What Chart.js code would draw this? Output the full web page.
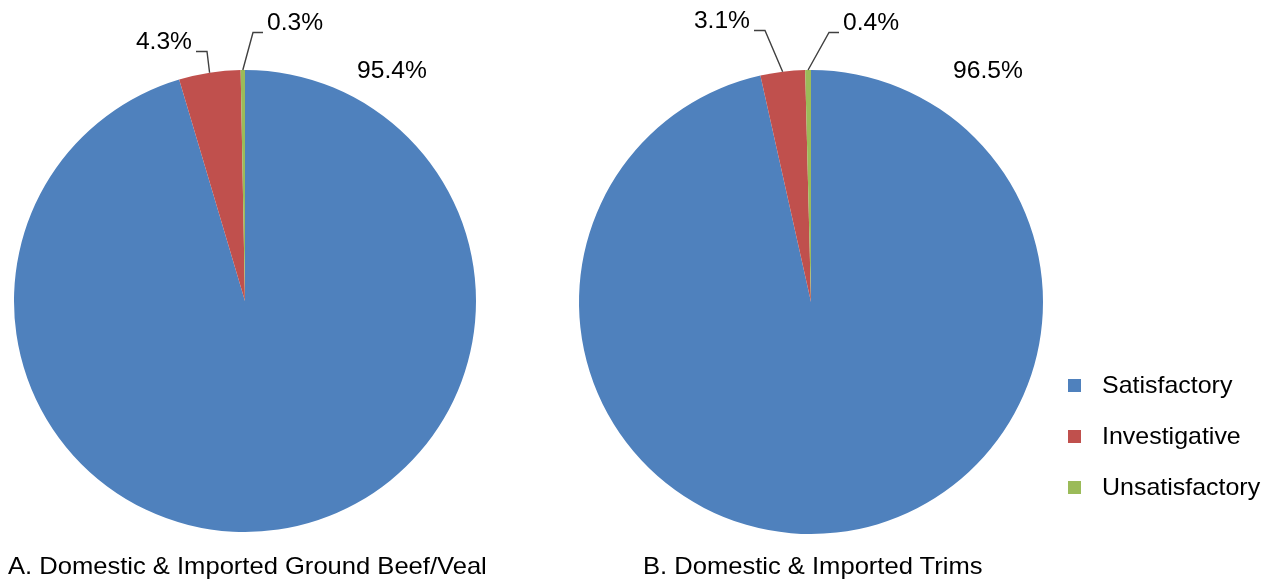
<!DOCTYPE html>
<html>
<head>
<meta charset="utf-8">
<script src="https://cdn.jsdelivr.net/npm/chart.js@4.4.1/dist/chart.umd.min.js"></script>
<style>
  html, body { margin: 0; padding: 0; background: #fff; }
  body { width: 1277px; height: 583px; position: relative; overflow: hidden;
         font-family: "Liberation Sans", Arial, sans-serif; color: #000; }
  .layer { position: absolute; left: 0; top: 0; width: 1277px; height: 583px; }
  .title { position: absolute; top: 552px; font-size: 24px; line-height: 28px; white-space: nowrap;
           transform: scaleX(1.065); transform-origin: 0 0; }
  #legend { position: absolute; left: 1068px; top: 370px; font-size: 24px; }
  .item { position: absolute; left: 0; height: 30px; white-space: nowrap; }
  .item span.box { position: absolute; left: 0; top: 9px; width: 13px; height: 13px; }
  .item span.txt { position: absolute; left: 34px; top: 0; line-height: 30px;
                   transform: scaleX(1.04); transform-origin: 0 0; }
</style>
</head>
<body>
<div class="layer"><canvas id="pieA" width="1277" height="583"></canvas></div>
<div class="layer"><canvas id="pieB" width="1277" height="583"></canvas></div>
<div class="title" id="titleA" style="left: 8px;"></div>
<div class="title" id="titleB" style="left: 643px;"></div>
<div id="legend"></div>

<script>
// Data
const categories = ['Satisfactory', 'Investigative', 'Unsatisfactory'];
const groundBeefValues = [95.4, 4.3, 0.3];
const trimsValues = [96.5, 3.1, 0.4];
const chartTitles = ['A. Domestic & Imported Ground Beef/Veal', 'B. Domestic & Imported Trims'];
const sliceColors = ['#4F81BD', '#C0504D', '#9BBB59'];

// Where each data label sits (page pixels) and whether it gets a leader line
const labelsA = [
    { x: 392, y: 72, align: 'center', leader: false },
    { x: 192, y: 43, align: 'right', leader: true },
    { x: 267, y: 24, align: 'left', leader: true }
];
const labelsB = [
    { x: 988, y: 72, align: 'center', leader: false },
    { x: 750, y: 22, align: 'right', leader: true },
    { x: 843, y: 24, align: 'left', leader: true }
];

const FONT = '23px "Liberation Sans", Arial, sans-serif';
const STRETCH = 1.07; // text in the picture is a little wider than plain Arial

// Draws the percent labels and the elbow leader lines to the small slices
const pieLabels = {
    id: 'pieLabels',
    afterDatasetsDraw(chart, args, opts) {
        const ctx = chart.ctx;
        const meta = chart.getDatasetMeta(0);
        const data = chart.data.datasets[0].data;
        ctx.save();
        ctx.font = FONT;
        ctx.textBaseline = 'middle';
        meta.data.forEach(function (arc, i) {
            const place = opts.places[i];
            const text = data[i].toFixed(1) + '%';
            ctx.save();
            ctx.fillStyle = '#000';
            ctx.textAlign = place.align;
            ctx.translate(place.x, place.y);
            ctx.scale(STRETCH, 1);
            ctx.fillText(text, 0, 0);
            ctx.restore();
            if (!place.leader) return;
            const mid = (arc.startAngle + arc.endAngle) / 2;
            const ax = arc.x + Math.cos(mid) * arc.outerRadius;
            const ay = arc.y + Math.sin(mid) * arc.outerRadius;
            let edge, elbow;
            if (place.align === 'right') {
                edge = place.x + 4;
                elbow = edge + 11;
            } else {
                edge = place.x - 4;
                elbow = edge - 10;
            }
            const ly = place.y + 8.5;
            ctx.beginPath();
            ctx.strokeStyle = '#404040';
            ctx.lineWidth = 1.4;
            ctx.moveTo(edge, ly);
            ctx.lineTo(elbow, ly);
            ctx.lineTo(ax, ay);
            ctx.stroke();
        });
        ctx.restore();
    }
};

function pieConfig(values, places, cx, cy, r) {
    return {
        type: 'pie',
        data: {
            labels: categories,
            datasets: [{
                data: values,
                backgroundColor: sliceColors,
                borderWidth: 0
            }]
        },
        options: {
            responsive: false,
            animation: false,
            events: [],
            layout: {
                padding: { left: cx - r, right: 1277 - cx - r, top: cy - r, bottom: 583 - cy - r }
            },
            plugins: {
                legend: { display: false },
                tooltip: { enabled: false },
                pieLabels: { places: places }
            }
        },
        plugins: [pieLabels]
    };
}

new Chart(document.getElementById('pieA').getContext('2d'), pieConfig(groundBeefValues, labelsA, 245, 301, 231));
new Chart(document.getElementById('pieB').getContext('2d'), pieConfig(trimsValues, labelsB, 811, 302, 232));

document.getElementById('titleA').textContent = chartTitles[0];
document.getElementById('titleB').textContent = chartTitles[1];

// Legend built from the same category list
const legend = document.getElementById('legend');
categories.forEach(function (name, i) {
    const item = document.createElement('div');
    item.className = 'item';
    item.style.top = (i * 51) + 'px';
    item.innerHTML = '<span class="box" style="background:' + sliceColors[i] + '"></span><span class="txt"></span>';
    item.querySelector('.txt').textContent = name;
    legend.appendChild(item);
});
</script>
</body>
</html>
